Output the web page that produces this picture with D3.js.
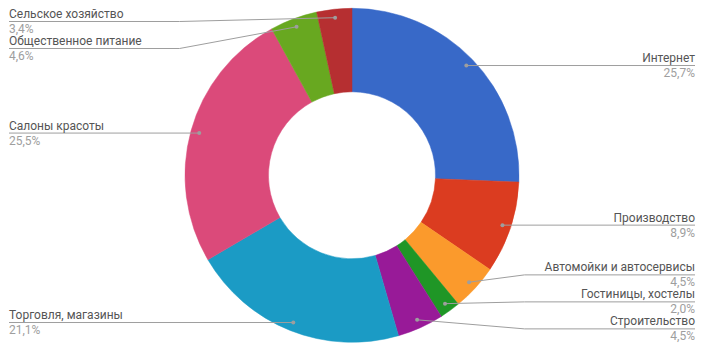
<!DOCTYPE html>
<html><head><meta charset="utf-8">
<script src="https://cdn.jsdelivr.net/npm/d3@7"></script>
<style>html,body{margin:0;padding:0;background:#fff;}svg{display:block;font-family:Roboto,"Noto Sans",sans-serif;}</style>
</head><body>
<svg id="chart" width="702" height="353"></svg>
<script>
const categories = ["Интернет","Производство","Автомойки и автосервисы","Гостиницы, хостелы","Строительство","Торговля, магазины","Салоны красоты","Общественное питание","Сельское хозяйство"];
const values = [25.7, 8.9, 4.5, 2.0, 4.5, 21.1, 25.5, 4.6, 3.4];
const colors = ["#3869c8","#db3c20","#fb9a2c","#1f9626","#981a98","#1b9bc5","#db4a7a","#68a820","#b62f31"];

const W = 702, H = 353;
const cx = 352, cy = 175.3, R = 167, r0 = 83.5, rDot = 158.5;
const svg = d3.select("#chart");
const g = svg.append("g").attr("transform", `translate(${cx},${cy})`);

const data = categories.map((c,i)=>({name:c, value:values[i], color:colors[i]}));
const pie = d3.pie().value(d=>d.value).sort(null);
const arcs = pie(data);
const arc = d3.arc().innerRadius(r0).outerRadius(R);

g.selectAll("path.slice").data(arcs).enter().append("path")
  .attr("class","slice").attr("d",arc).attr("fill",d=>d.data.color)
  .attr("stroke",d=>d.data.color).attr("stroke-width",0.5);

// label layout
const fmt = v => d3.format(".1f")(v).replace(".", ",") + "%";
const items = arcs.map(a => {
  const m = (a.startAngle + a.endAngle)/2;
  return {a, name:a.data.name, value:a.data.value,
    dx: rDot*Math.sin(m), dy: -rDot*Math.cos(m), side: Math.sin(m) >= 0 ? "right" : "left"};
});
const gap = 27, minY = 21.5 - cy, maxY = 335 - cy;
function layout(list){
  list.sort((p,q)=>p.dy-q.dy);
  let clusters = list.map(it=>({items:[it], desired:it.dy}));
  function place(c){
    const n = c.items.length;
    let start = c.desired - (n-1)*gap/2;
    if (start < minY) start = minY;
    if (start + (n-1)*gap > maxY) start = maxY - (n-1)*gap;
    c.start = start;
  }
  clusters.forEach(place);
  let changed = true;
  while(changed){
    changed = false;
    for(let i=0;i<clusters.length-1;i++){
      const A = clusters[i], B = clusters[i+1];
      const endA = A.start + (A.items.length-1)*gap;
      if (B.start - endA < gap - 0.01){
        const items = A.items.concat(B.items);
        const c = {items, desired: d3.mean(items, it=>it.dy) };
        place(c);
        clusters.splice(i,2,c);
        changed = true; break;
      }
    }
  }
  clusters.forEach(c=>c.items.forEach((it,k)=>{ it.ly = c.start + k*gap; }));
}
layout(items.filter(d=>d.side==="right"));
layout(items.filter(d=>d.side==="left"));

const bend = R + 5.5;
const leftX = 9 - cx, rightX = 695 - cx;
const lg = g.append("g");
items.forEach(it=>{
  const right = it.side === "right";
  const outerX = right ? rightX : leftX;
  const bx = right ? bend : -bend;
  const straight = Math.abs(it.ly - it.dy) < 1.5;
  const pts = straight
    ? [[outerX, it.ly],[it.dx, it.ly]]
    : [[outerX, it.ly],[bx, it.ly],[it.dx, it.dy]];
  lg.append("path").attr("d", d3.line()(pts)).attr("fill","none")
    .attr("stroke","#9e9e9e").attr("stroke-width",1);
  lg.append("circle").attr("cx",it.dx).attr("cy",straight ? it.ly : it.dy)
    .attr("r",2).attr("fill","#9e9e9e");
  lg.append("text").attr("x",outerX).attr("y",it.ly-3.5)
    .attr("text-anchor", right ? "end" : "start")
    .attr("font-size",12).attr("fill","#555").text(it.name);
  lg.append("text").attr("x",outerX).attr("y",it.ly+11.5)
    .attr("text-anchor", right ? "end" : "start")
    .attr("font-size",12).attr("fill","#9e9e9e").text(fmt(it.value));
});
</script>
</body></html>
